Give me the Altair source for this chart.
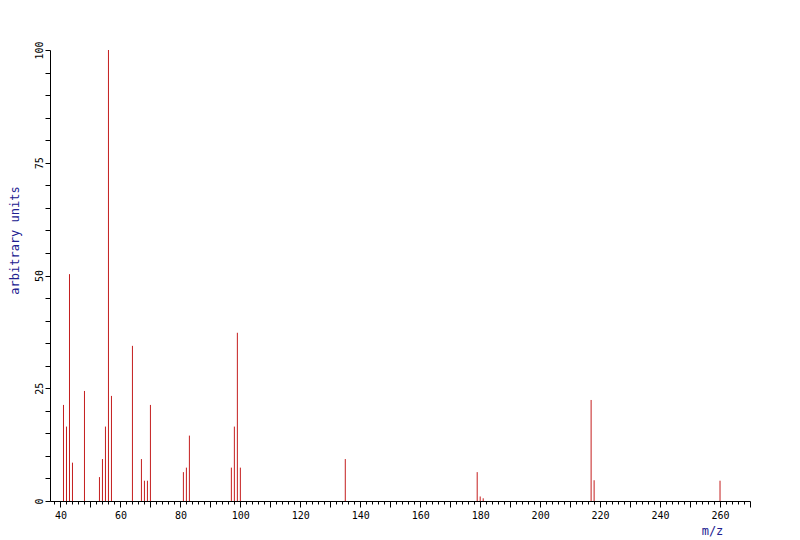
import altair as alt
import pandas as pd

# peak list (m/z, relative intensity)
mz = [41, 42, 43, 44, 48, 53, 54, 55, 56, 57, 64, 67, 68, 69, 70,
      81, 82, 83, 97, 98, 99, 100, 135, 179, 180, 181, 217, 218, 260]
intensity = [21.3, 16.5, 50.3, 8.5, 24.4, 5.3, 9.3, 16.5, 100, 23.3, 34.4,
             9.3, 4.5, 4.5, 21.3, 6.4, 7.4, 14.5, 7.4, 16.5, 37.3, 7.4,
             9.3, 6.4, 1.0, 0.6, 22.4, 4.6, 4.5]

x_ticks = list(range(38, 271, 2))
y_ticks = list(range(0, 101, 5))

peak_color = '#c41e1e'
title_color = '#202090'
font = 'DejaVu Sans Mono'

source = pd.DataFrame({'mz': mz, 'intensity': intensity, 'base': 0})

chart = alt.Chart(source).mark_rule(
    color=peak_color,
    strokeWidth=1
).encode(
    x=alt.X('mz:Q',
            scale=alt.Scale(domain=[36.5, 270], nice=False, zero=False),
            axis=alt.Axis(
                title='m/z',
                values=x_ticks,
                labelExpr="datum.value % 20 === 0 ? datum.label : ''",
                labelOverlap=False,
                labelFlush=False,
                grid=False,
                tickSize={'condition': {'test': 'datum.value % 10 === 0',
                                        'value': 6},
                          'value': 3},
                labelPadding=3,
                titleX=662,
                titleY=29,
                titleAlign='center',
                titleBaseline='middle',
            )),
    y=alt.Y('intensity:Q',
            scale=alt.Scale(domain=[0, 100], nice=False),
            axis=alt.Axis(
                title='arbitrary units',
                values=y_ticks,
                labelExpr="datum.value % 25 === 0 ? datum.label : ''",
                labelOverlap=False,
                labelFlush=False,
                labelAngle=270,
                labelAlign='center',
                labelBaseline='bottom',
                labelPadding=1,
                grid=False,
                tickSize=5,
                titleX=-36,
                titleY=190,
                titleAngle=270,
                titleAlign='center',
                titleBaseline='middle',
            )),
    y2='base:Q'
).properties(
    width=700,
    height=451,
    autosize=alt.AutoSizeParams(type='none'),
    padding={'left': 42, 'top': 42, 'right': 42, 'bottom': 38}
).configure_view(
    stroke=None
).configure_axis(
    domainColor='black',
    tickColor='black',
    labelColor='black',
    labelFont=font,
    labelFontSize=10,
    titleFont=font,
    titleFontSize=12,
    titleFontWeight='normal',
    titleColor=title_color,
)

chart.save("out.html", embed_options={"renderer": "svg", "actions": False})
